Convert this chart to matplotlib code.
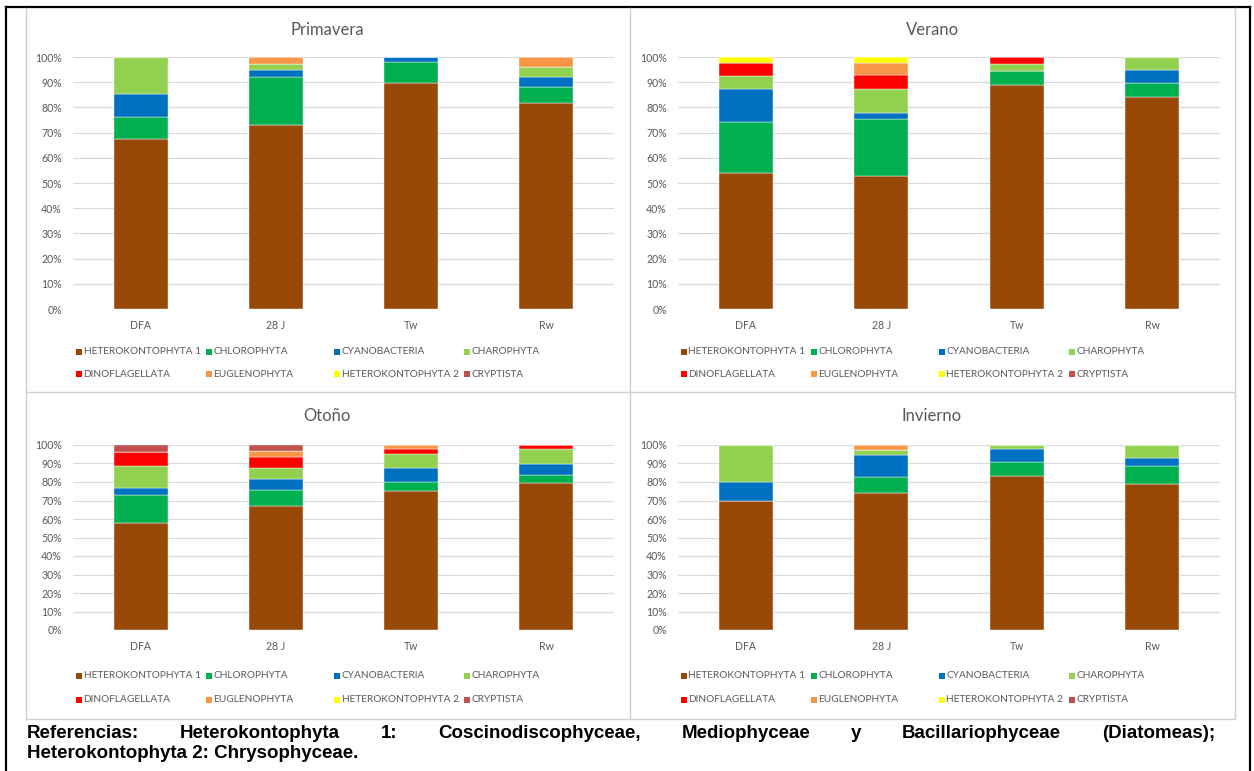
import matplotlib
matplotlib.use('Agg')
import matplotlib.pyplot as plt
from matplotlib.patches import Rectangle
from matplotlib.lines import Line2D
from matplotlib.ticker import PercentFormatter

W, H = 1254, 771

sites = ['DFA', '28 J', 'Tw', 'Rw']
groups = ['HETEROKONTOPHYTA 1', 'CHLOROPHYTA', 'CYANOBACTERIA', 'CHAROPHYTA',
          'DINOFLAGELLATA', 'EUGLENOPHYTA', 'HETEROKONTOPHYTA 2', 'CRYPTISTA']
colors = ['#984807', '#00B050', '#0070C0', '#92D050',
          '#FF0000', '#F79646', '#FFFF00', '#C0504D']

# % of each group per site (DFA, 28 J, Tw, Rw), in the order of `groups`
primavera = [
    [67.5, 73.1, 89.8, 81.7],
    [8.8, 19.0, 8.3, 6.2],
    [8.9, 2.6, 1.9, 4.2],
    [14.8, 2.7, 0.0, 3.9],
    [0.0, 0.0, 0.0, 0.0],
    [0.0, 2.6, 0.0, 4.0],
    [0.0, 0.0, 0.0, 0.0],
    [0.0, 0.0, 0.0, 0.0],
]
verano = [
    [53.9, 52.6, 88.9, 84.2],
    [20.4, 22.6, 5.7, 5.6],
    [13.1, 2.5, 0.0, 4.9],
    [4.9, 9.8, 2.8, 5.3],
    [5.3, 5.2, 2.6, 0.0],
    [0.0, 4.9, 0.0, 0.0],
    [2.4, 2.4, 0.0, 0.0],
    [0.0, 0.0, 0.0, 0.0],
]
otono = [
    [57.7, 66.8, 75.0, 79.5],
    [15.5, 9.0, 4.9, 4.1],
    [3.8, 5.9, 7.6, 6.0],
    [11.5, 5.8, 7.4, 8.3],
    [7.6, 6.1, 2.7, 2.1],
    [0.0, 3.1, 2.4, 0.0],
    [0.0, 0.0, 0.0, 0.0],
    [3.9, 3.3, 0.0, 0.0],
]
invierno = [
    [70.0, 73.8, 83.5, 78.7],
    [0.0, 8.7, 7.1, 9.9],
    [10.1, 12.1, 7.2, 4.3],
    [19.9, 2.5, 2.2, 7.1],
    [0.0, 0.0, 0.0, 0.0],
    [0.0, 2.9, 0.0, 0.0],
    [0.0, 0.0, 0.0, 0.0],
    [0.0, 0.0, 0.0, 0.0],
]

caption1 = ('Referencias: Heterokontophyta 1: Coscinodiscophyceae, '
            'Mediophyceae y Bacillariophyceae (Diatomeas);')
caption2 = 'Heterokontophyta 2: Chrysophyceae.'

GREY = '#595959'
plt.rcParams['font.family'] = ['Lato', 'DejaVu Sans']

fig = plt.figure(figsize=(W / 100, H / 100), dpi=100)


def fx(x):
    return x / W


def fy(y):
    return 1 - y / H


def hline(x0, x1, y, color, lw):
    fig.add_artist(Line2D([fx(x0), fx(x1)], [fy(y), fy(y)], color=color, lw=lw))


def vline(x, y0, y1, color, lw):
    fig.add_artist(Line2D([fx(x), fx(x)], [fy(y0), fy(y1)], color=color, lw=lw))


# outer frame and panel separators
hline(6, 1250, 7, 'black', 1.6)
vline(6, 7, 771, 'black', 1.6)
vline(1250, 7, 771, 'black', 1.6)
for x in (26, 630, 1235):
    vline(x, 8, 719, '#D0D0D0', 1.0)
for y in (392, 719):
    hline(26, 1235, y, '#D0D0D0', 1.0)

# title, data, axes box (x0, y0, x1, y1), title centre, legend rows
panels = [
    ('Primavera', primavera, (73, 57, 614, 309), (327, 30), (352, 374)),
    ('Verano', verano, (678, 57, 1220, 309), (933, 30), (352, 374)),
    ('Otoño', otono, (73, 445, 614, 630), (327, 416), (676, 700)),
    ('Invierno', invierno, (678, 445, 1220, 630), (932, 416), (676, 700)),
]
leg_cols = [3, 133, 261, 391]

for title, data, box, tpos, rows in panels:
    x0, y0, x1, y1 = box
    ax = fig.add_axes([fx(x0), fy(y1), (x1 - x0) / W, (y1 - y0) / H])
    bottom = [0.0] * len(sites)
    for vals, col in zip(data, colors):
        ax.bar(range(len(sites)), vals, width=0.4, bottom=bottom, color=col,
               edgecolor='white', linewidth=0.3, zorder=3)
        bottom = [b + v for b, v in zip(bottom, vals)]
    ax.set_xlim(-0.5, len(sites) - 0.5)
    ax.set_ylim(0, 100)
    ax.set_yticks(range(0, 101, 10))
    ax.yaxis.set_major_formatter(PercentFormatter(100, decimals=0))
    ax.set_xticks(range(len(sites)))
    ax.set_xticklabels(sites)
    ax.grid(axis='y', color='#D9D9D9', lw=0.9, zorder=0)
    ax.tick_params(length=0, labelsize=7.6, labelcolor=GREY)
    ax.tick_params(axis='y', pad=8)
    ax.tick_params(axis='x', pad=8)
    for s in ax.spines.values():
        s.set_visible(False)

    fig.text(fx(tpos[0]), fy(tpos[1]), title, ha='center', va='center',
             fontsize=12, color=GREY)

    # legend: two rows of four fixed-width columns
    for i, (name, col) in enumerate(zip(groups, colors)):
        lx = x0 + leg_cols[i % 4]
        ly = rows[i // 4]
        fig.add_artist(Rectangle((fx(lx), fy(ly + 3)), 6 / W, 6 / H,
                                 transform=fig.transFigure, color=col, lw=0))
        fig.text(fx(lx + 7.5), fy(ly), name, ha='left', va='center',
                 fontsize=7.3, color=GREY)

# caption below the panels, first line justified between the margins
cap_font = dict(family='Liberation Sans', weight='bold', fontsize=13.5,
                color='black', va='center')
renderer = fig.canvas.get_renderer()
words = caption1.split()
arts = [fig.text(0, fy(733), w, ha='left', **cap_font) for w in words]
widths = [a.get_window_extent(renderer).width for a in arts]
left, right = 27, 1215
gap = (right - left - sum(widths)) / (len(words) - 1)
x = left
for a, wd in zip(arts, widths):
    a.set_x(fx(x))
    x += wd + gap
fig.text(fx(left), fy(754), caption2, ha='left', **cap_font)

fig.savefig('out.png', dpi=100)
